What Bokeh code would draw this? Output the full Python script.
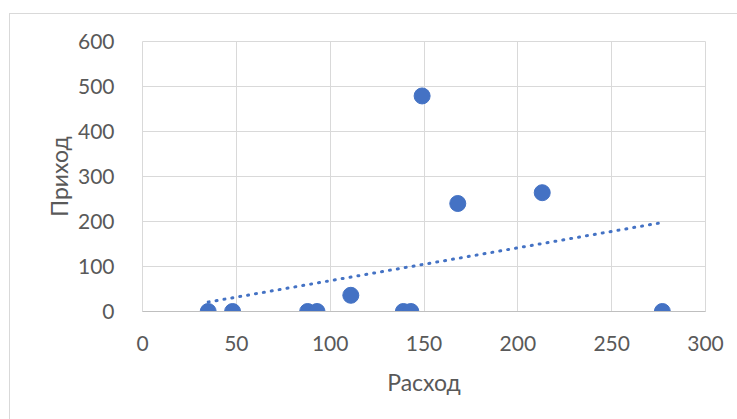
import numpy as np
from bokeh.plotting import figure
from bokeh.models import Range1d, FixedTicker
from bokeh.embed import file_html
from bokeh.resources import INLINE

# Data
rashod = [35, 48, 88, 93, 111, 139, 143, 149, 168, 213, 277]   # x: Расход
prihod = [0, 0, 0, 0, 36, 0, 0, 479, 240, 264, 0]             # y: Приход
x_ticks = [0, 50, 100, 150, 200, 250, 300]
y_ticks = [0, 100, 200, 300, 400, 500, 600]
x_title = "Расход"
y_title = "Приход"

TEXT = "#595959"
GRID = "#d9d9d9"
BLUE = "#4472C4"
FONT = "Lato"

p = figure(width=728, height=406,
           x_range=Range1d(0, 300), y_range=Range1d(0, 600),
           output_backend="svg", toolbar_location=None,
           min_border_left=132, min_border_right=33,
           min_border_top=27, min_border_bottom=109)
p.styles = {"margin-left": "9px", "margin-top": "13px",
            "border-left": "1px solid #d9d9d9", "border-top": "1px solid #d9d9d9"}

p.background_fill_color = "white"
p.border_fill_color = "white"
p.outline_line_color = GRID

p.xaxis.ticker = FixedTicker(ticks=x_ticks)
p.yaxis.ticker = FixedTicker(ticks=y_ticks)
for ax in (p.xaxis, p.yaxis):
    ax.major_tick_line_color = None
    ax.minor_tick_line_color = None
    ax.major_label_text_color = TEXT
    ax.major_label_text_font = FONT
    ax.major_label_text_font_size = "21px"
    ax.axis_label_text_color = TEXT
    ax.axis_label_text_font = FONT
    ax.axis_label_text_font_size = "23px"
    ax.axis_label_text_font_style = "normal"
p.xaxis.axis_line_color = "#bfbfbf"
p.yaxis.axis_line_color = None
p.xaxis.major_label_standoff = 18
p.yaxis.major_label_standoff = 22
p.xaxis.axis_label = x_title
p.yaxis.axis_label = y_title
p.xaxis.axis_label_standoff = 14
p.yaxis.axis_label_standoff = 2

p.xgrid.grid_line_color = GRID
p.ygrid.grid_line_color = GRID
p.xgrid.ticker = FixedTicker(ticks=x_ticks)
p.ygrid.ticker = FixedTicker(ticks=y_ticks)

# Linear trendline (least squares) from min x to max x
k, b = np.polyfit(np.array(rashod, float), np.array(prihod, float), 1)
tx = [min(rashod), max(rashod)]
ty = [k * t + b for t in tx]
p.line(tx, ty, line_color=BLUE, line_width=3, line_dash="1 7", line_cap="round")

p.scatter(rashod, prihod, size=16, fill_color=BLUE, line_color=BLUE)

open("out.html", "w").write(file_html(p, INLINE))
